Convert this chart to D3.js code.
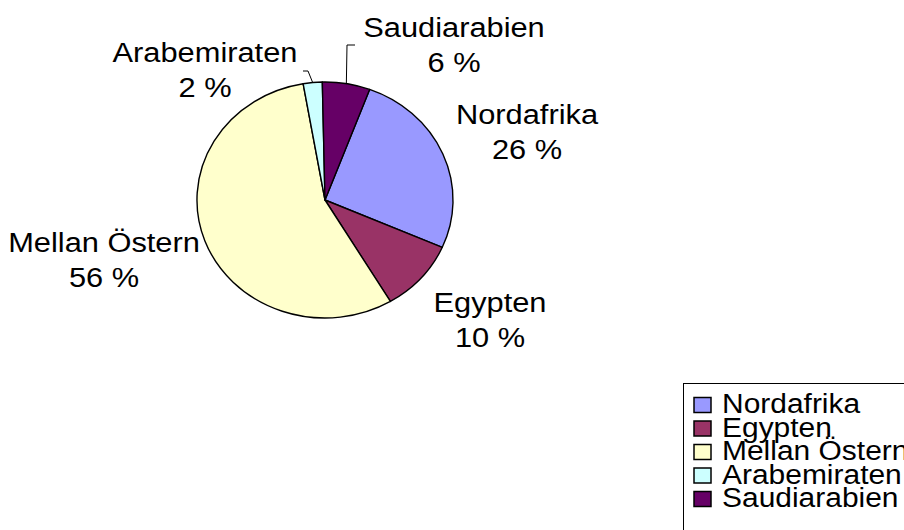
<!DOCTYPE html>
<html>
<head>
<meta charset="utf-8">
<script src="https://cdn.jsdelivr.net/npm/d3@7/dist/d3.min.js"></script>
<style>
  html, body { margin: 0; padding: 0; background: #fff; }
  svg { display: block; }
  text { font-family: "Liberation Sans", Arial, sans-serif; fill: #000; }
</style>
</head>
<body>
<div id="chart"></div>
<script>
const categories = ["Nordafrika", "Egypten", "Mellan Östern", "Arabemiraten", "Saudiarabien"]
const shares = [25.9, 9.9, 55.8, 2.4, 6.0]
const colors = ["#9999ff", "#993366", "#ffffcc", "#ccffff", "#660066"]

// label anchors (center x, first baseline) and whether a leader line is drawn
const labelLayout = [
  { x: 527, y: 124, leader: false },
  { x: 490, y: 312, leader: false },
  { x: 104, y: 252, leader: false },
  { x: 205, y: 62, leader: true, elbow: [303, 71] },
  { x: 454, y: 37, leader: true, elbow: [355, 45] },
]

const width = 904
const height = 530
const stretch = 1.085       // the original chart is drawn a bit wider than tall
const textStretch = 1.1
const legendStretch = 1.07
const radius = 118
const cx = 325, cy = 200
const fontSize = 28
const lineGap = 35

const svg = d3.select("#chart")
  .append("svg")
  .attr("width", width)
  .attr("height", height)

const total = d3.sum(shares)
const pie = d3.pie()
  .sort(null)
  .value(d => d)
  .startAngle(20.4 * Math.PI / 180)
  .endAngle(20.4 * Math.PI / 180 + 2 * Math.PI)

const arcs = pie(shares)
const arc = d3.arc().innerRadius(0).outerRadius(radius)

const pieG = svg.append("g")
  .attr("transform", `translate(${cx},${cy}) scale(${stretch},1)`)

pieG.selectAll("path")
  .data(arcs)
  .join("path")
  .attr("d", arc)
  .attr("fill", (d, i) => colors[i])
  .attr("stroke", "#000")
  .attr("stroke-width", 1.4)
  .attr("stroke-linejoin", "round")
  .attr("vector-effect", "non-scaling-stroke")

// point on the pie edge in page coordinates
function edgePoint(d) {
  const a = (d.startAngle + d.endAngle) / 2
  return [cx + stretch * radius * Math.sin(a), cy - radius * Math.cos(a)]
}

// leader lines for the small slices
const leaderG = svg.append("g")
arcs.forEach((d, i) => {
  const lay = labelLayout[i]
  if (!lay.leader) return
  const p = edgePoint(d)
  const e = lay.elbow
  leaderG.append("polyline")
    .attr("points", [p, [e[0] + (i === 3 ? 5 : -8), e[1]], e].map(q => q.join(",")).join(" "))
    .attr("fill", "none")
    .attr("stroke", "#000")
    .attr("stroke-width", 1)
})

// data labels
const labelG = svg.append("g")
arcs.forEach((d, i) => {
  const lay = labelLayout[i]
  const pct = Math.round(d.data / total * 100) + " %"
  ;[categories[i], pct].forEach((t, k) => {
    labelG.append("text")
      .attr("transform", `translate(${lay.x},${lay.y + k * lineGap}) scale(${textStretch},1)`)
      .attr("text-anchor", "middle")
      .attr("font-size", fontSize)
      .text(t)
  })
})

// legend
const legend = svg.append("g").attr("transform", "translate(683,383)")
legend.append("rect")
  .attr("x", 0.5).attr("y", 0.5)
  .attr("width", 260).attr("height", 160)
  .attr("fill", "#fff")
  .attr("stroke", "#000")
  .attr("stroke-width", 1)

const rowH = 23.5
const item = legend.selectAll("g.item")
  .data(categories)
  .join("g")
  .attr("class", "item")
  .attr("transform", (d, i) => `translate(0,${i * rowH})`)

item.append("rect")
  .attr("x", 11).attr("y", 14.5)
  .attr("width", 17).attr("height", 15)
  .attr("fill", (d, i) => colors[i])
  .attr("stroke", "#000")
  .attr("stroke-width", 1.5)

item.append("text")
  .attr("transform", `translate(39,30) scale(${legendStretch},1)`)
  .attr("font-size", fontSize)
  .text(d => d)
</script>
</body>
</html>
